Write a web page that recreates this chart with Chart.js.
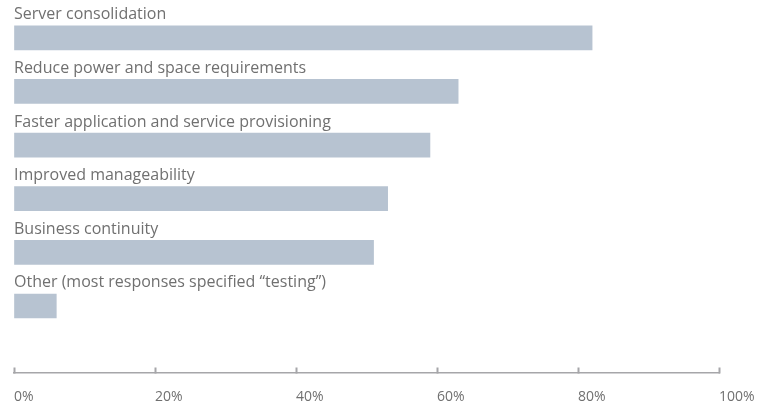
<!DOCTYPE html>
<html>
<head>
<meta charset="utf-8">
<script src="https://cdn.jsdelivr.net/npm/chart.js@4/dist/chart.umd.min.js"></script>
<style>
  html, body { margin: 0; padding: 0; background: #ffffff; }
  canvas { display: block; }
</style>
</head>
<body>
<canvas id="chart" width="763" height="406"></canvas>
<script>
// Reasons given for adopting virtualization (share of respondents, %)
const categories = [
  'Server consolidation',
  'Reduce power and space requirements',
  'Faster application and service provisioning',
  'Improved manageability',
  'Business continuity',
  'Other (most responses specified \u201Ctesting\u201D)'
];
const shares = [82, 63, 59, 53, 51, 6];
const tickValues = [0, 20, 40, 60, 80, 100];
const tickLabels = ['0%', '20%', '40%', '60%', '80%', '100%'];

const FONT = '"Open Sans", "Noto Sans", sans-serif';
const TEXT = '#707070';
const BAR = '#b7c3d1';
const AXIS = '#a6a6a9';

// Each category name sits just above its bar, flush with the axis origin.
const categoryLabels = {
  id: 'categoryLabels',
  afterDatasetsDraw(chart) {
    const { ctx } = chart;
    const xs = chart.scales.x;
    const ys = chart.scales.y;
    ctx.save();
    ctx.font = '16px ' + FONT;
    ctx.fillStyle = TEXT;
    ctx.textAlign = 'left';
    ctx.textBaseline = 'alphabetic';
    categories.forEach((name, i) => {
      const yc = ys.getPixelForValue(i);
      ctx.fillText(name, xs.left, yc - 12 - 6.5);
    });
    ctx.restore();
  }
};

// Short upward tick marks standing on the percentage axis line.
const upTicks = {
  id: 'upTicks',
  afterDraw(chart) {
    const { ctx } = chart;
    const xs = chart.scales.x;
    ctx.save();
    ctx.strokeStyle = AXIS;
    ctx.lineWidth = 2;
    ctx.beginPath();
    tickValues.forEach(v => {
      const x = Math.round(xs.getPixelForValue(v)) + 0.5;
      ctx.moveTo(x, xs.top + 0.5);
      ctx.lineTo(x, xs.top - 5.5);
    });
    ctx.stroke();
    ctx.restore();
  }
};

new Chart(document.getElementById('chart'), {
  type: 'bar',
  data: {
    datasets: [{
      data: shares.map((v, i) => ({ x: v, y: i })),
      backgroundColor: BAR,
      borderWidth: 0,
      barThickness: 24
    }]
  },
  options: {
    indexAxis: 'y',
    responsive: false,
    animation: false,
    devicePixelRatio: 1,
    layout: { padding: { left: 14, right: 44, top: 11, bottom: 0 } },
    plugins: {
      legend: { display: false },
      tooltip: { enabled: false }
    },
    scales: {
      y: {
        type: 'linear',
        display: false,
        reverse: true,
        offset: false,
        min: -0.5,
        max: 6.25
      },
      x: {
        type: 'linear',
        position: 'bottom',
        min: 0,
        max: 100,
        afterBuildTicks(scale) {
          scale.ticks = tickValues.map(v => ({ value: v }));
        },
        afterFit(scale) {
          scale.height = 33;
          scale.paddingLeft = 0;
          scale.paddingRight = 0;
        },
        border: { display: true, color: AXIS, width: 1.5 },
        grid: {
          drawOnChartArea: false,
          drawTicks: false
        },
        ticks: {
          align: 'start',
          padding: 16,
          color: TEXT,
          font: { family: FONT, size: 14 },
          maxRotation: 0,
          autoSkip: false,
          callback(value) {
            const k = tickValues.indexOf(value);
            return k >= 0 ? tickLabels[k] : '';
          }
        }
      }
    }
  },
  plugins: [categoryLabels, upTicks]
});
</script>
</body>
</html>
